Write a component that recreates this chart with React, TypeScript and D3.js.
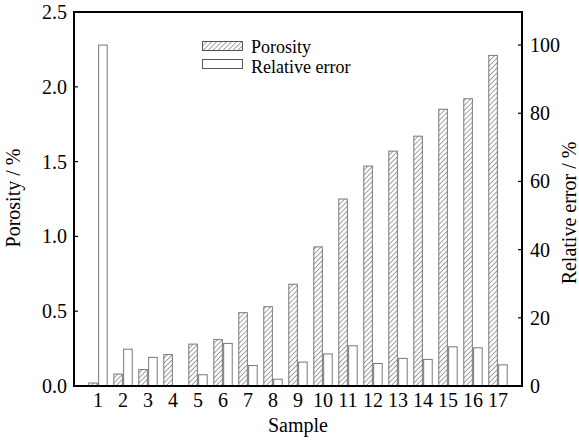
import React from 'react';
import * as d3 from 'd3';

// values
const samples = ['1', '2', '3', '4', '5', '6', '7', '8', '9', '10', '11', '12', '13', '14', '15', '16', '17'];
const porosity = [0.02, 0.08, 0.11, 0.21, 0.28, 0.31, 0.49, 0.53, 0.68, 0.93, 1.25, 1.47, 1.57, 1.67, 1.85, 1.92, 2.21];
const relativeError = [100, 10.8, 8.4, 0, 3.3, 12.5, 6, 2, 7, 9.4, 11.8, 6.6, 8.1, 7.8, 11.5, 11.2, 6.2];
const leftTicks = [0, 0.5, 1.0, 1.5, 2.0, 2.5];
const rightTicks = [0, 20, 40, 60, 80, 100];

const W = 579;
const H = 440;
const margin = { top: 12, right: 57, bottom: 54, left: 74 };
const FONT = '"Liberation Serif", "Times New Roman", serif';

export default function App() {
  const innerW = W - margin.left - margin.right;
  const innerH = H - margin.top - margin.bottom;

  const x0 = d3.scaleBand().domain(samples).range([0, innerW]).paddingInner(0.2).paddingOuter(0.56);
  const x1 = d3.scaleBand().domain(['p', 'e']).range([0, x0.bandwidth()]).padding(0.03);
  const yLeft = d3.scaleLinear().domain([0, 2.5]).range([innerH, 0]);
  const yRight = d3.scaleLinear().domain([0, 109.7]).range([innerH, 0]);

  const rows = samples.map((s, i) => ({ s, p: porosity[i], e: relativeError[i] }));

  return (
    <svg width={W} height={H} style={{ position: 'absolute', left: 0, top: 0, background: '#fff' }} fontFamily={FONT}>
      <defs>
        <pattern id="hatch" width="3.5" height="3.5" patternUnits="userSpaceOnUse" patternTransform="rotate(45)">
          <rect width="3.5" height="3.5" fill="#fff" />
          <line x1="0" y1="0" x2="0" y2="3.5" stroke="#333" strokeWidth="0.9" />
        </pattern>
      </defs>
      <g transform={'translate(' + margin.left + ',' + margin.top + ')'}>
        {rows.map((d) => (
          <g key={d.s} transform={'translate(' + x0(d.s) + ',0)'}>
            <rect
              x={x1('p')! + 0.5}
              y={yLeft(d.p)}
              width={x1.bandwidth() - 1}
              height={innerH - yLeft(d.p)}
              fill="url(#hatch)"
              stroke="#777"
              strokeWidth={1}
            />
            {d.e > 0 && (
              <rect
                x={x1('e')! + 0.5}
                y={yRight(d.e)}
                width={x1.bandwidth() - 1}
                height={innerH - yRight(d.e)}
                fill="#fff"
                stroke="#777"
                strokeWidth={1}
              />
            )}
          </g>
        ))}

        {/* frame */}
        <rect x={0} y={0} width={innerW} height={innerH} fill="none" stroke="#000" strokeWidth={2} />

        {/* left ticks */}
        {leftTicks.map((t) => (
          <g key={'l' + t} transform={'translate(0,' + yLeft(t) + ')'}>
            <line x1={0} x2={4} stroke="#000" strokeWidth={1.2} />
            <text x={-7} dy="0.35em" textAnchor="end" fontSize={20}>{t.toFixed(1)}</text>
          </g>
        ))}

        {/* right ticks */}
        {rightTicks.map((t) => (
          <g key={'r' + t} transform={'translate(' + innerW + ',' + yRight(t) + ')'}>
            <line x1={0} x2={-4} stroke="#000" strokeWidth={1.2} />
            <text x={8} dy="0.35em" textAnchor="start" fontSize={20}>{t}</text>
          </g>
        ))}

        {/* x labels */}
        {samples.map((s) => (
          <text key={'x' + s} x={x0(s)! + x0.bandwidth() / 2} y={innerH + 21} textAnchor="middle" fontSize={20}>{s}</text>
        ))}

        {/* legend */}
        <g transform="translate(128,29)">
          <rect x={0.5} y={0.5} width={40} height={9} fill="url(#hatch)" stroke="#555" />
          <text x={49} y={12} fontSize={18}>Porosity</text>
          <rect x={0.5} y={18.5} width={40} height={9} fill="#fff" stroke="#555" />
          <text x={49} y={32} fontSize={18}>Relative error</text>
        </g>
      </g>

      <text x={margin.left + innerW / 2} y={432} textAnchor="middle" fontSize={20}>Sample</text>
      <text transform="translate(20,198) rotate(-90)" textAnchor="middle" fontSize={20}>Porosity / %</text>
      <text transform="translate(576,213) rotate(-90)" textAnchor="middle" fontSize={20}>Relative error / %</text>
    </svg>
  );
}
